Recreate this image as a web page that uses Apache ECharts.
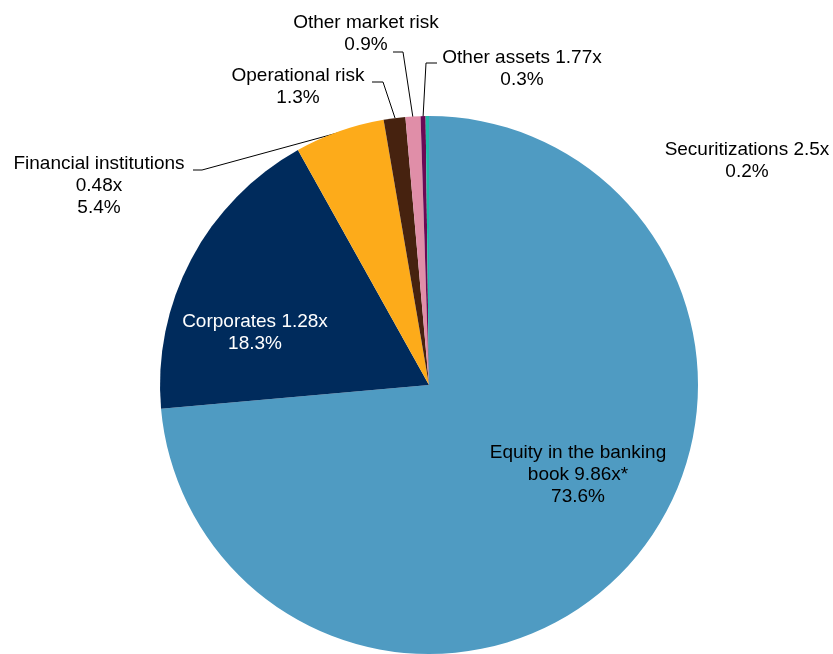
<!DOCTYPE html>
<html>
<head>
<meta charset="utf-8">
<script src="https://cdn.jsdelivr.net/npm/echarts@6/dist/echarts.min.js"></script>
<style>
  html, body { margin: 0; padding: 0; background: #fff; }
  #pie { width: 833px; height: 654px; }
</style>
</head>
<body>
<div id="pie"></div>
<script>
// slice names, shown labels and shares (%), clockwise from 12 o'clock
const names = [
  'Equity in the banking book',
  'Corporates',
  'Financial institutions',
  'Operational risk',
  'Other market risk',
  'Other assets',
  'Securitizations'
]
const labels = [
  'Equity in the banking\nbook 9.86x*\n73.6%',
  'Corporates 1.28x\n18.3%',
  'Financial institutions\n0.48x\n5.4%',
  'Operational risk\n1.3%',
  'Other market risk\n0.9%',
  'Other assets 1.77x\n0.3%',
  'Securitizations 2.5x\n0.2%'
]
const shares = [73.6, 18.3, 5.4, 1.3, 0.9, 0.3, 0.2]
const colors = ['#4f9bc2', '#002b5c', '#fdab1a', '#46220f', '#e08ea8', '#6a0a55', '#20b9aa']
const textColors = ['#000', '#fff', '#000', '#000', '#000', '#000', '#000']

// label centres and leader lines (page pixels)
const labelPos = [
  [578, 475], [255, 333], [99, 186], [298, 87], [366, 34], [522, 69], [747, 161]
]
const leaderLines = [
  null,
  null,
  [[341, 132], [202, 170], [193, 170]],
  [[395, 118], [383, 82], [372, 82]],
  [[413, 118], [403, 52], [393, 52]],
  [[423, 118], [426, 63], [437, 63]],
  null
]

const chart = echarts.init(document.getElementById('pie'))
chart.setOption({
  animation: false,
  series: [
    {
      type: 'pie',
      center: [429, 385],
      radius: 269,
      startAngle: 90,
      clockwise: true,
      avoidLabelOverlap: false,
      itemStyle: { borderWidth: 0 },
      label: {
        show: true,
        position: 'outside',
        fontFamily: 'Liberation Sans, Arial, sans-serif',
        fontSize: 19,
        lineHeight: 22,
        align: 'center',
        formatter: p => labels[p.dataIndex]
      },
      labelLine: {
        show: true,
        lineStyle: { color: '#000', width: 1 }
      },
      labelLayout: params => {
        const i = params.dataIndex
        const out = {
          x: labelPos[i][0],
          y: labelPos[i][1],
          align: 'center',
          verticalAlign: 'middle'
        }
        if (leaderLines[i]) out.labelLinePoints = leaderLines[i]
        return out
      },
      data: names.map((n, i) => ({
        name: n,
        value: shares[i],
        itemStyle: { color: colors[i] },
        label: { color: textColors[i] },
        labelLine: { show: !!leaderLines[i] }
      }))
    }
  ]
})
</script>
</body>
</html>
